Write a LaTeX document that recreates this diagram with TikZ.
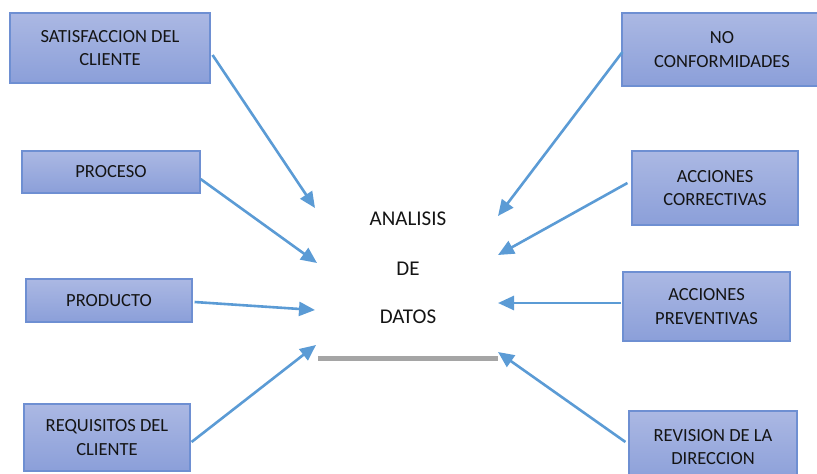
\documentclass[tikz,border=0pt]{standalone}
\usepackage{fontspec}
\setmainfont{Carlito}
\usetikzlibrary{arrows.meta,calc}

\definecolor{boxtop}{RGB}{171,184,227}
\definecolor{boxbot}{RGB}{139,159,217}
\definecolor{boxline}{RGB}{110,143,210}
\definecolor{arrowblue}{RGB}{91,155,213}
\definecolor{bargray}{RGB}{165,165,165}
\definecolor{inktext}{RGB}{20,20,20}

\tikzset{
  factor/.style={draw=boxline, line width=1.1pt, top color=boxtop, bottom color=boxbot,
    rectangle, inner sep=0pt, align=center, text=inktext,
    font=\fontsize{18.5}{23.5}\selectfont},
  feed/.style={draw=arrowblue, line width=2.6pt,
    -{Triangle[length=16pt,width=14pt]}},
  core/.style={text=inktext, font=\fontsize{21}{25}\selectfont, anchor=base}
}

\begin{document}
\begin{tikzpicture}[x=1pt,y=-1pt]
  \useasboundingbox (0,0) rectangle (817,474);
  \clip (0,0) rectangle (817,474);

  % factors on the left
  \node[factor, minimum width=200pt, minimum height=70pt] (sat) at (110,48) {SATISFACCION DEL\\CLIENTE};
  \node[factor, minimum width=178pt, minimum height=42pt] (pro) at (111,172) {PROCESO};
  \node[factor, minimum width=166pt, minimum height=43pt] (prd) at (109,300.5) {PRODUCTO};
  \node[factor, minimum width=166pt, minimum height=67pt] (req) at (107,437.5) {REQUISITOS DEL\\CLIENTE};

  % factors on the right
  \node[factor, minimum width=200pt, minimum height=73pt] (noc) at (722,49.5) {NO\\CONFORMIDADES};
  \node[factor, minimum width=166pt, minimum height=74pt] (cor) at (715,188) {ACCIONES\\CORRECTIVAS};
  \node[factor, minimum width=167pt, minimum height=69pt] (pre) at (706.5,306.5) {ACCIONES\\PREVENTIVAS};
  \node[factor, minimum width=168pt, minimum height=72pt] (rev) at (713,447) {REVISION DE LA\\DIRECCION};

  % central label
  \node[core] (t1) at (408,225) {ANALISIS};
  \node[core] (t2) at (408,275) {DE};
  \node[core] (t3) at (408,323) {DATOS};

  % underline bar
  \coordinate (barL) at (318,358);
  \coordinate (barR) at (498,358);
  \draw[bargray, line width=5pt] (barL) -- (barR);

  % arrow tips around the centre
  \coordinate (inA) at (315,208);
  \coordinate (inB) at (317,263);
  \coordinate (inC) at (315,310);
  \coordinate (inD) at (316,345);
  \coordinate (inE) at (498,216);
  \coordinate (inF) at (498,255);
  \coordinate (inG) at (498,303);
  \coordinate (inH) at (498,352);

  % connectors
  \draw[feed] ($(sat.east)+(2,7)$) -- (inA);
  \draw[feed] ($(pro.east)+(0,7)$) -- (inB);
  \draw[feed] ($(prd.east)+(2,1.5)$) -- (inC);
  \draw[feed] ($(req.east)+(1,4.5)$) -- (inD);
  \draw[feed] ($(noc.west)+(1,2.5)$) -- (inE);
  \draw[feed] ($(cor.west)+(-4,-5)$) -- (inF);
  \draw[feed] ($(pre.west)+(-1,-3.5)$) -- (inG);
  \draw[feed] ($(rev.west)+(-3,-5)$) -- (inH);
\end{tikzpicture}
\end{document}
